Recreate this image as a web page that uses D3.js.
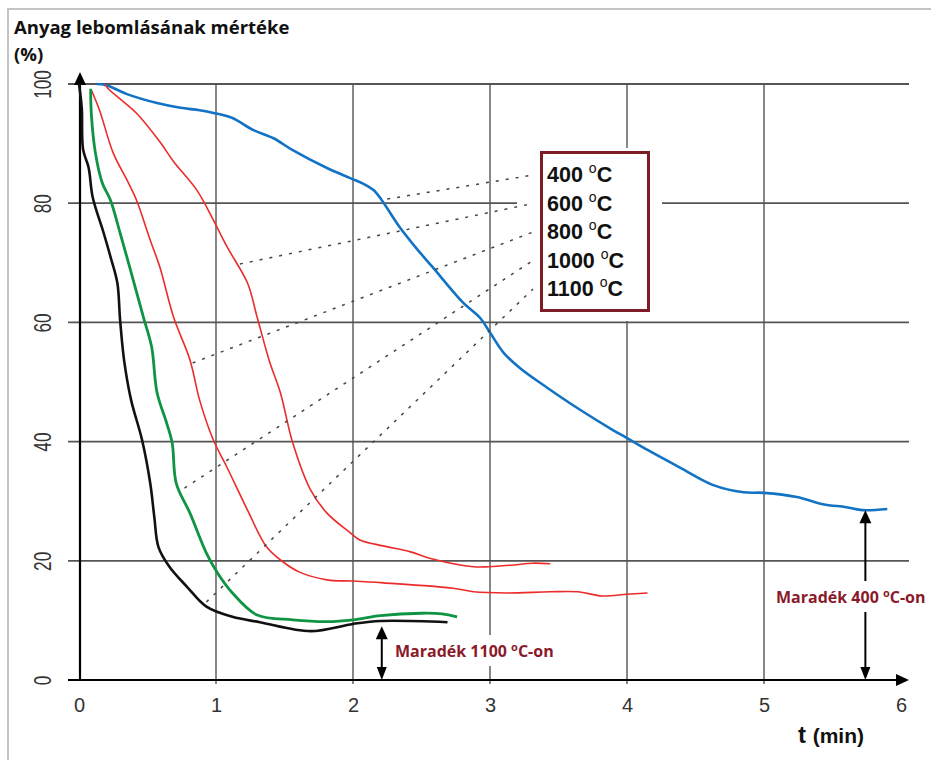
<!DOCTYPE html>
<html>
<head>
<meta charset="utf-8">
<script src="https://cdn.jsdelivr.net/npm/d3@7"></script>
<style>
  body { margin: 0; background: #fff; }
  svg { display: block; }
</style>
</head>
<body>
<div id="chart"></div>
<script>
// [t (min), mass loss (%)]
const curve400 = [[0.13,100],[0.2,99.8],[0.35,98.3],[0.57,96.8],[0.74,96],[0.88,95.6],[0.99,95.1],[1.12,94.3],
  [1.27,92.3],[1.42,90.9],[1.56,88.9],[1.81,85.9],[1.98,84.2],[2.08,83.2],[2.15,82.2],[2.21,80.5],[2.34,76],
  [2.46,72.5],[2.58,69.3],[2.8,63.4],[2.93,60.7],[3.0,58.3],[3.1,54.9],[3.22,52.3],[3.42,49],[3.66,45.3],
  [3.9,41.9],[4.0,40.6],[4.15,38.6],[4.39,35.6],[4.63,32.7],[4.85,31.5],[5.0,31.4],[5.24,30.7],[5.43,29.5],
  [5.6,29.0],[5.72,28.5],[5.9,28.7]];
const curve600 = [[0.19,100],[0.21,99.3],[0.42,95.1],[0.59,90.3],[0.69,87],[0.86,82.2],[0.98,77.2],[1.08,72.7],
  [1.23,66.6],[1.3,60.9],[1.39,53.5],[1.47,48.2],[1.56,39.8],[1.69,31.9],[1.81,28],[1.98,24.7],[2.05,23.5],
  [2.22,22.5],[2.42,21.5],[2.58,20.3],[2.88,19],[2.99,19],[3.17,19.3],[3.31,19.6],[3.44,19.5]];
const curve800 = [[0.09,99],[0.15,95.6],[0.25,88.4],[0.35,83.9],[0.42,80.5],[0.52,73.8],[0.59,69.3],[0.69,60.9],
  [0.81,53.7],[0.88,47],[0.98,40.3],[1.08,35.7],[1.23,28.5],[1.37,22.3],[1.49,19.8],[1.61,18.1],[1.81,16.8],
  [2.0,16.6],[2.22,16.3],[2.73,15.4],[2.88,14.8],[3.12,14.6],[3.44,14.8],[3.64,14.8],[3.82,14.1],[4.0,14.4],[4.15,14.6]];
const curve1000 = [[0.085,99.2],[0.09,95],[0.12,88.4],[0.17,83.4],[0.23,80.5],[0.3,75],[0.39,67.6],[0.47,60.9],
  [0.53,55.9],[0.57,48.2],[0.64,43.1],[0.68,39.8],[0.71,33],[0.81,28],[0.93,21.3],[1.01,18],[1.12,14.6],
  [1.3,10.9],[1.56,10.1],[1.81,9.8],[2.0,10.1],[2.2,10.8],[2.5,11.2],[2.65,11.1],[2.76,10.6]];
const curve1100 = [[0.0,100],[0.02,96],[0.03,89],[0.07,86],[0.1,81],[0.18,75],[0.23,71],[0.28,66.6],[0.3,60.4],
  [0.33,53.5],[0.38,47],[0.46,40.3],[0.52,33],[0.55,27.3],[0.58,22.3],[0.66,19],[0.79,15.6],[0.93,12.3],
  [1.12,10.6],[1.32,9.7],[1.69,8.2],[2.0,9.4],[2.2,9.9],[2.69,9.7]];

const legendLabels = ['400', '600', '800', '1000', '1100'];
// where each dotted leader touches its curve
const leaderStarts = [[2.25,80.7],[1.175,69.8],[0.83,53.2],[0.77,32.2],[0.93,13.1]];

const xTicks = [0, 1, 2, 3, 4, 5, 6];
const yTicks = [0, 20, 40, 60, 80, 100];

const residueT = [2.21, 5.74];
const residueV = [9, 28.5];
const residueLabels = ['1100', '400'];

const width = 931, height = 760;

const svg = d3.select('#chart')
    .append('svg')
    .attr('width', width)
    .attr('height', height);

const x = d3.scaleLinear().domain([0, 6]).range([79, 901]);
const y = d3.scaleLinear().domain([0, 100]).range([680, 84]);

// Picture frame
svg.append('path')
    .attr('d', `M8,${height} L8,9 L${width},9`)
    .attr('fill', 'none')
    .attr('stroke', '#c4c4c4')
    .attr('stroke-width', 2);

// Grid
svg.append('g').selectAll('line')
    .data(yTicks.filter(d => d > 0))
    .join('line')
    .attr('x1', 68).attr('x2', 909)
    .attr('y1', d => y(d)).attr('y2', d => y(d))
    .attr('stroke', '#555')
    .attr('stroke-width', 1.8);

svg.append('g').selectAll('line')
    .data(xTicks.filter(d => d > 0 && d < 6))
    .join('line')
    .attr('x1', d => x(d)).attr('x2', d => x(d))
    .attr('y1', y(100)).attr('y2', y(0) + 4)
    .attr('stroke', '#555')
    .attr('stroke-width', 1.4);

// White area behind legend (cuts the grid)
svg.append('rect')
    .attr('x', 517).attr('y', 148)
    .attr('width', 145).attr('height', 173)
    .attr('fill', '#fff');

// Axes
const arrowHead = (tx, ty, dir) => {
    const pts = dir === 'up'
        ? [[tx, ty], [tx - 6, ty + 13], [tx + 6, ty + 13]]
        : dir === 'down'
        ? [[tx, ty], [tx - 5, ty - 13], [tx + 5, ty - 13]]
        : [[tx, ty], [tx - 13, ty - 6], [tx - 13, ty + 6]];
    svg.append('path')
        .attr('d', d3.line()(pts) + 'Z')
        .attr('fill', '#000');
};

svg.append('line')
    .attr('x1', x(0) + 1).attr('x2', x(0) + 1)
    .attr('y1', y(0)).attr('y2', 80)
    .attr('stroke', '#000').attr('stroke-width', 2.2);
arrowHead(x(0) + 1, 72, 'up');

svg.append('line')
    .attr('x1', 68).attr('x2', 898)
    .attr('y1', y(0)).attr('y2', y(0))
    .attr('stroke', '#000').attr('stroke-width', 2.2);
arrowHead(909, y(0), 'right');

const xAxis = svg.append('g')
    .attr('transform', `translate(0,${y(0)})`)
    .call(d3.axisBottom(x).tickValues(xTicks).tickFormat(d3.format('d')).tickSize(0).tickPadding(18));
xAxis.select('.domain').remove();
xAxis.selectAll('text')
    .attr('font-family', 'Liberation Sans, Arial, sans-serif')
    .attr('font-size', 20)
    .attr('fill', '#333');

const yAxis = svg.append('g')
    .attr('transform', `translate(${x(0)},0)`)
    .call(d3.axisLeft(y).tickValues(yTicks).tickSize(0));
yAxis.select('.domain').remove();
yAxis.selectAll('text')
    .attr('x', 0)
    .attr('y', -28)
    .attr('dy', 0)
    .attr('text-anchor', 'middle')
    .attr('transform', 'rotate(-90) scale(0.75,1)')
    .attr('font-family', 'Liberation Sans, Arial, sans-serif')
    .attr('font-size', 23)
    .attr('fill', '#333');

// Curves
const line = d3.line()
    .x(d => x(d[0]))
    .y(d => y(d[1]))
    .curve(d3.curveCatmullRom.alpha(0.5));

const curves = [
    { data: curve400, color: '#1273c4', w: 2.6 },
    { data: curve600, color: '#ec2b2b', w: 1.6 },
    { data: curve800, color: '#ec2b2b', w: 1.6 },
    { data: curve1000, color: '#0e9442', w: 2.8 },
    { data: curve1100, color: '#111', w: 2.6 }
];

curves.forEach(c => {
    svg.append('path')
        .datum(c.data)
        .attr('d', line)
        .attr('fill', 'none')
        .attr('stroke', c.color)
        .attr('stroke-width', c.w)
        .attr('stroke-linejoin', 'round');
});

// Legend
const legendX = 541, legendY = 152, rowH = 28.5;

svg.append('g').selectAll('line')
    .data(leaderStarts)
    .join('line')
    .attr('x1', d => x(d[0])).attr('y1', d => y(d[1]))
    .attr('x2', 533)
    .attr('y2', (d, i) => legendY + 23 + i * rowH)
    .attr('stroke', '#444')
    .attr('stroke-width', 1.5)
    .attr('stroke-dasharray', '3,7');

svg.append('rect')
    .attr('x', legendX + 0.5).attr('y', legendY + 0.5)
    .attr('width', 107).attr('height', 158)
    .attr('fill', '#fff')
    .attr('stroke', '#7e1c25')
    .attr('stroke-width', 3);

const legendText = svg.append('g')
    .attr('font-family', 'Liberation Sans, Arial, sans-serif')
    .attr('font-weight', 'bold')
    .attr('font-size', 21.5)
    .attr('fill', '#111')
    .selectAll('text')
    .data(legendLabels)
    .join('text')
    .attr('x', legendX + 6)
    .attr('y', (d, i) => legendY + 30 + i * rowH);
legendText.append('tspan').text(d => d + ' ');
legendText.append('tspan').attr('font-size', 14).attr('font-weight', 'normal').attr('dy', -9).text('o');
legendText.append('tspan').attr('dy', 9).text('C');

// Residue arrows
residueT.forEach((t, i) => {
    const ax = x(t);
    svg.append('line')
        .attr('x1', ax).attr('x2', ax)
        .attr('y1', y(residueV[i]) + 10).attr('y2', y(0) - 10)
        .attr('stroke', '#000').attr('stroke-width', 2);
    arrowHead(ax, y(residueV[i]), 'up');
    arrowHead(ax, y(0), 'down');
});

const residuePos = [[395, 657], [776, 603]];
residueLabels.forEach((lab, i) => {
    const g = svg.append('g');
    const txt = g.append('text')
        .attr('x', residuePos[i][0])
        .attr('y', residuePos[i][1])
        .attr('font-family', 'Open Sans, sans-serif')
        .attr('font-weight', 'bold')
        .attr('font-size', 16)
        .attr('fill', '#8a1a2a');
    txt.append('tspan').text('Maradék ' + lab + ' ');
    txt.append('tspan').attr('font-size', 11).attr('dy', -6).text('o');
    txt.append('tspan').attr('dy', 6).text('C-on');
    const bb = txt.node().getBBox();
    g.insert('rect', 'text')
        .attr('x', bb.x - 2).attr('y', bb.y - 4)
        .attr('width', bb.width + 4).attr('height', bb.height + 8)
        .attr('fill', '#fff');
});

// Titles
svg.append('text')
    .attr('x', 14).attr('y', 34)
    .attr('font-family', 'Open Sans, sans-serif')
    .attr('font-weight', 'bold')
    .attr('font-size', 18.5)
    .attr('fill', '#111')
    .text('Anyag lebomlásának mértéke');

svg.append('text')
    .attr('x', 14).attr('y', 61)
    .attr('font-family', 'Open Sans, sans-serif')
    .attr('font-weight', 'bold')
    .attr('font-size', 18.5)
    .attr('fill', '#111')
    .text('(%)');

const xTitle = svg.append('text')
    .attr('x', 798).attr('y', 743)
    .attr('font-family', 'Liberation Sans, Arial, sans-serif')
    .attr('font-weight', 'bold')
    .attr('fill', '#111');
xTitle.append('tspan').attr('font-size', 24).text('t ');
xTitle.append('tspan').attr('font-size', 21).text('(min)');
</script>
</body>
</html>
